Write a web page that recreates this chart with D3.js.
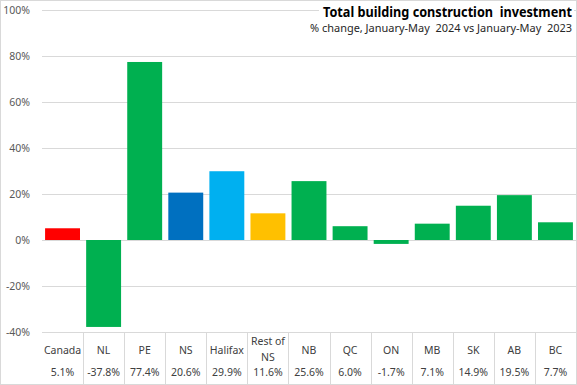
<!DOCTYPE html>
<html>
<head>
<meta charset="utf-8">
<script src="https://cdn.jsdelivr.net/npm/d3@7"></script>
<style>
  body { margin: 0; background: #fff; }
  text { font-family: "Noto Sans", Roboto, sans-serif; white-space: pre; }
</style>
</head>
<body>
<script>
// data
var regions = ["Canada", "NL", "PE", "NS", "Halifax", "Rest of NS", "NB", "QC", "ON", "MB", "SK", "AB", "BC"];
var changes = [5.1, -37.8, 77.4, 20.6, 29.9, 11.6, 25.6, 6.0, -1.7, 7.1, 14.9, 19.5, 7.7];
var barColors = ["#ff0000", "#00b050", "#00b050", "#0070c0", "#00b0f0", "#ffc000", "#00b050",
                 "#00b050", "#00b050", "#00b050", "#00b050", "#00b050", "#00b050"];
var yTicks = [-40, -20, 0, 20, 40, 60, 80, 100];

var w = 577, h = 385;
var margin = {top: 10, right: 1, bottom: 53, left: 42};

var svg = d3.select('body').append('svg')
    .attr('width', w)
    .attr('height', h);

// chart border
svg.append('rect')
    .attr('x', 0.5).attr('y', 0.5)
    .attr('width', w - 1).attr('height', h - 1)
    .attr('fill', 'none')
    .attr('stroke', '#d9d9d9');

var xScale = d3.scaleBand()
    .domain(regions)
    .range([margin.left, w - margin.right])
    .paddingInner(0.15)
    .paddingOuter(0.075);

var yScale = d3.scaleLinear()
    .domain([-40, 100])
    .range([h - margin.bottom, margin.top]);

// gridlines
svg.append('g')
    .selectAll('line')
    .data(yTicks)
    .enter()
    .append('line')
    .attr('x1', margin.left)
    .attr('x2', w - margin.right)
    .attr('y1', function (d) { return Math.round(yScale(d)) + 0.5; })
    .attr('y2', function (d) { return Math.round(yScale(d)) + 0.5; })
    .attr('stroke', '#d9d9d9');

// y labels
svg.append('g')
    .selectAll('text')
    .data(yTicks)
    .enter()
    .append('text')
    .attr('x', 30)
    .attr('y', function (d) { return yScale(d); })
    .attr('dy', '0.35em')
    .attr('text-anchor', 'end')
    .attr('font-size', 10.5)
    .attr('fill', '#595959')
    .text(function (d) { return d + '%'; });

// bars
svg.append('g')
    .selectAll('rect')
    .data(changes)
    .enter()
    .append('rect')
    .attr('x', function (d, i) { return xScale(regions[i]); })
    .attr('width', xScale.bandwidth())
    .attr('y', function (d) { return yScale(Math.max(0, d)); })
    .attr('height', function (d) { return Math.abs(yScale(d) - yScale(0)); })
    .attr('fill', function (d, i) { return barColors[i]; });

// data table separators
var step = xScale.step();
var tableTop = yScale(-40);
svg.append('g')
    .selectAll('line')
    .data(regions.slice(1))
    .enter()
    .append('line')
    .attr('x1', function (d) { return Math.round(xScale(d) - xScale.paddingInner() * step / 2) + 0.5; })
    .attr('x2', function (d) { return Math.round(xScale(d) - xScale.paddingInner() * step / 2) + 0.5; })
    .attr('y1', tableTop)
    .attr('y2', h)
    .attr('stroke', '#d9d9d9');

// table category labels
var cat = svg.append('g')
    .selectAll('text')
    .data(regions)
    .enter()
    .append('text')
    .attr('x', function (d) { return xScale(d) + xScale.bandwidth() / 2; })
    .attr('y', 350)
    .attr('text-anchor', 'middle')
    .attr('font-size', 10.5)
    .attr('fill', '#404040');

cat.each(function (d) {
    var el = d3.select(this);
    if (d == "Rest of NS") {
        el.append('tspan').attr('x', el.attr('x')).attr('y', 341).attr('dy', '0.35em').text('Rest of');
        el.append('tspan').attr('x', el.attr('x')).attr('y', 357).attr('dy', '0.35em').text('NS');
    } else {
        el.attr('dy', '0.35em').text(d);
    }
});

// table values
svg.append('g')
    .selectAll('text')
    .data(changes)
    .enter()
    .append('text')
    .attr('x', function (d, i) { return xScale(regions[i]) + xScale.bandwidth() / 2; })
    .attr('y', 372)
    .attr('dy', '0.35em')
    .attr('text-anchor', 'middle')
    .attr('font-size', 10.5)
    .attr('fill', '#404040')
    .text(function (d) { return d.toFixed(1) + '%'; });

// title block with white background
svg.append('rect')
    .attr('x', 319).attr('y', 2)
    .attr('width', 255).attr('height', 32)
    .attr('fill', '#fff');

svg.append('text')
    .attr('x', 572)
    .attr('y', 17)
    .attr('text-anchor', 'end')
    .attr('font-size', 15)
    .attr('font-weight', 'bold')
    .attr('fill', '#000')
    .attr('textLength', 249)
    .attr('lengthAdjust', 'spacingAndGlyphs')
    .text('Total building construction  investment');

svg.append('text')
    .attr('x', 572)
    .attr('y', 32)
    .attr('text-anchor', 'end')
    .attr('font-size', 11)
    .attr('fill', '#262626')
    .attr('textLength', 262)
    .attr('lengthAdjust', 'spacingAndGlyphs')
    .text('% change, January-May  2024 vs January-May  2023');
</script>
</body>
</html>
